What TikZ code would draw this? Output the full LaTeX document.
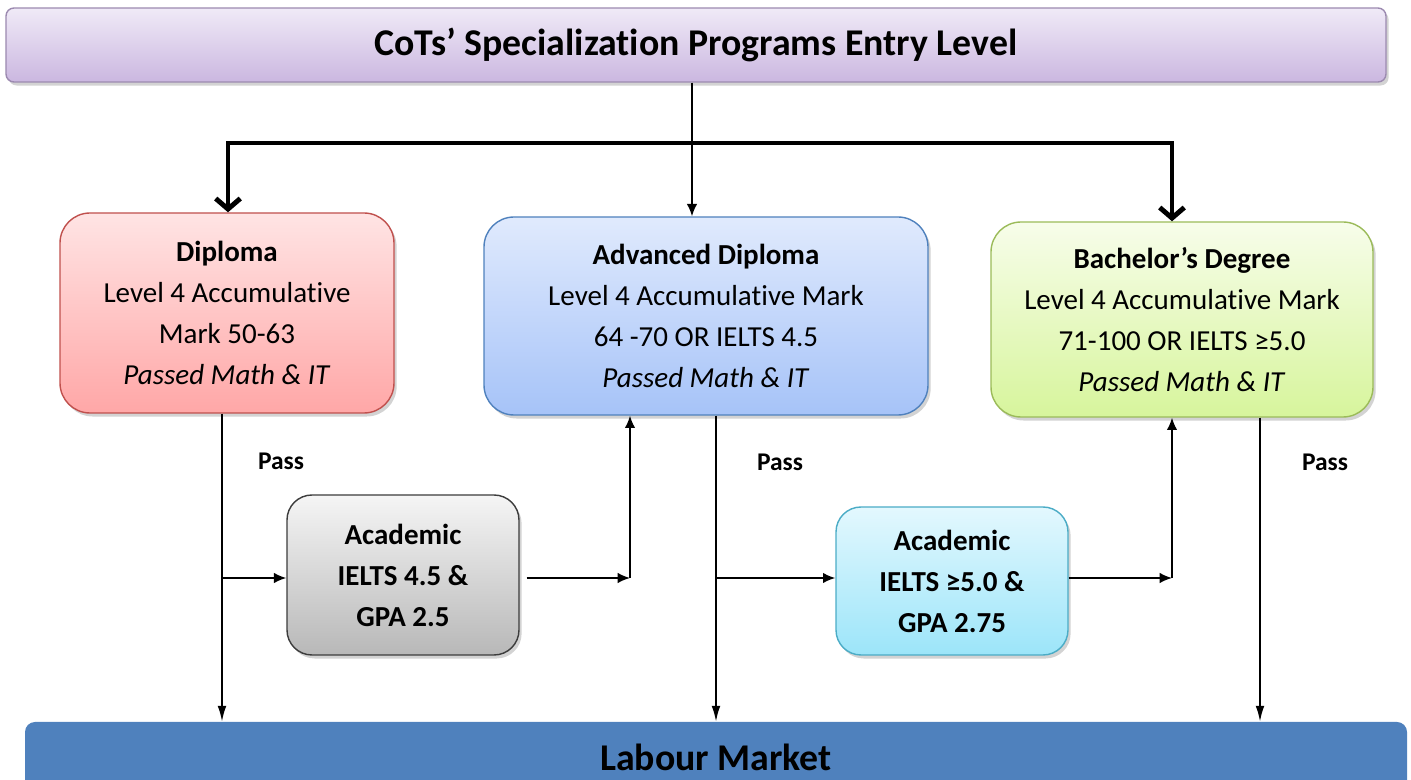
\documentclass[tikz,border=0pt]{standalone}
\usepackage{fontspec}
\setmainfont{Carlito}[RawFeature={-liga;-clig;-calt}]
\usepackage{tikz}
\usetikzlibrary{
	shapes,
	calc,
	shadows,
	arrows.meta}

\definecolor{lavTop}{HTML}{F0EAF7}
\definecolor{lavBot}{HTML}{CBB7E0}
\definecolor{lavLine}{HTML}{9C8AB0}
\definecolor{pinkTop}{HTML}{FFE4E4}
\definecolor{pinkBot}{HTML}{FFA7A7}
\definecolor{pinkLine}{HTML}{C0504D}
\definecolor{blueTop}{HTML}{E0EAFD}
\definecolor{blueBot}{HTML}{A6C3F8}
\definecolor{blueLine}{HTML}{4F81BD}
\definecolor{greenTop}{HTML}{F7FDEA}
\definecolor{greenBot}{HTML}{D7F59C}
\definecolor{greenLine}{HTML}{9BBB59}
\definecolor{grayTop}{HTML}{F5F5F5}
\definecolor{grayBot}{HTML}{B8B8B8}
\definecolor{grayLine}{HTML}{3C3C3C}
\definecolor{cyanTop}{HTML}{E3F8FE}
\definecolor{cyanBot}{HTML}{9CE5F9}
\definecolor{cyanLine}{HTML}{4BACC6}
\definecolor{labour}{HTML}{4F81BD}

\tikzset{
  boxtext/.style={align=center, font=\fontsize{16.5}{23.3}\selectfont, inner sep=0pt},
  progbox/.style={boxtext, rectangle, rounded corners=0.6cm, line width=0.8pt,
    drop shadow={shadow xshift=1.5pt, shadow yshift=-2pt, opacity=0.35}},
  acadbox/.style={progbox, rounded corners=0.5cm, font=\fontsize{16.5}{23.3}\selectfont\bfseries},
  link/.style={line width=1pt, -{Latex[length=7pt,width=6pt]}},
  downlink/.style={line width=1pt, -{Latex[length=9pt,width=5pt]}},
  biglink/.style={line width=2.8pt, -{Straight Barb[length=6pt,width=14pt]}},
  passlabel/.style={font=\fontsize{14.5}{16}\selectfont\bfseries}
}

\begin{document}
\begin{tikzpicture}
    \useasboundingbox (0,0) rectangle (28.22,-15.6);

    \node[rectangle, rounded corners=0.16cm, top color=lavTop, bottom color=lavBot,
      draw=lavLine, line width=0.8pt, minimum width=27.6cm, minimum height=1.48cm,
      drop shadow={shadow xshift=1.5pt, shadow yshift=-2pt, opacity=0.35},
      font=\fontsize{21.5}{24}\selectfont\bfseries] (T0) at (13.92,-0.9)
      {CoTs’ Specialization Programs Entry Level};

    \node[progbox, top color=pinkTop, bottom color=pinkBot, draw=pinkLine,
      minimum width=6.68cm, minimum height=4.0cm] (D1) at (4.54,-6.26)
      {\textbf{Diploma}\\ Level 4 Accumulative\\ Mark 50-63\\ \textit{Passed Math \& IT}};
    \node[progbox, top color=blueTop, bottom color=blueBot, draw=blueLine,
      minimum width=8.88cm, minimum height=3.96cm] (A1) at (14.12,-6.32)
      {\textbf{Advanced Diploma}\\ Level 4 Accumulative Mark\\ 64 -70 OR IELTS 4.5\\ \textit{Passed Math \& IT}};
    \node[progbox, top color=greenTop, bottom color=greenBot, draw=greenLine,
      minimum width=7.64cm, minimum height=3.9cm] (B1) at (23.64,-6.39)
      {\textbf{Bachelor’s Degree}\\ Level 4 Accumulative Mark\\ 71-100 OR IELTS ≥5.0\\ \textit{Passed Math \& IT}};

    \node[acadbox, top color=grayTop, bottom color=grayBot, draw=grayLine,
      minimum width=4.64cm, minimum height=3.2cm] (G2) at (8.06,-11.5)
      {Academic\\ IELTS 4.5 \&\\ GPA 2.5};
    \node[acadbox, top color=cyanTop, bottom color=cyanBot, draw=cyanLine,
      minimum width=4.64cm, minimum height=2.96cm] (C2) at (19.04,-11.62)
      {Academic\\ IELTS ≥5.0 \&\\ GPA 2.75};

    \node[rectangle, rounded corners=0.2cm, fill=labour, minimum width=27.64cm,
      minimum height=1.4cm, font=\fontsize{21.5}{24}\selectfont\bfseries] (L0) at (14.32,-15.14)
      {Labour Market};

    \node[passlabel] (S1) at (5.62,-9.22) {Pass};
    \node[passlabel] (S2) at (15.6,-9.24) {Pass};
    \node[passlabel] (S3) at (26.5,-9.24) {Pass};

    \coordinate (H0) at (13.84,-2.86);
    \coordinate (HL) at (4.56,-2.86);
    \coordinate (HR) at (23.44,-2.86);
    \coordinate (P1) at (4.44,-11.56);
    \coordinate (Q1) at (12.6,-11.56);
    \coordinate (P2) at (14.32,-11.56);
    \coordinate (Q2) at (23.44,-11.56);
    \coordinate (R3) at (25.2,-11.56);

    \draw [link] (T0.south -| H0) to (A1.north -| H0);
    \draw [biglink] (HR) -- (HL) -- (D1.north -| HL);
    \draw [biglink] (HL) -- (HR) -- (B1.north -| HR);

    \draw [downlink] (D1.south -| P1) to (L0.north -| P1);
    \draw [link] (P1) to (G2.west |- P1);
    \draw [link, shorten <=0.14cm] (G2.east |- Q1) to (Q1);
    \draw [link] (Q1) to (A1.south -| Q1);
    \draw [downlink] (A1.south -| P2) to (L0.north -| P2);
    \draw [link] (P2) to (C2.west |- P2);
    \draw [link] (C2.east |- Q2) to (Q2);
    \draw [link] (Q2) to (B1.south -| Q2);
    \draw [downlink] (B1.south -| R3) to (L0.north -| R3);
  \end{tikzpicture}
\end{document}
